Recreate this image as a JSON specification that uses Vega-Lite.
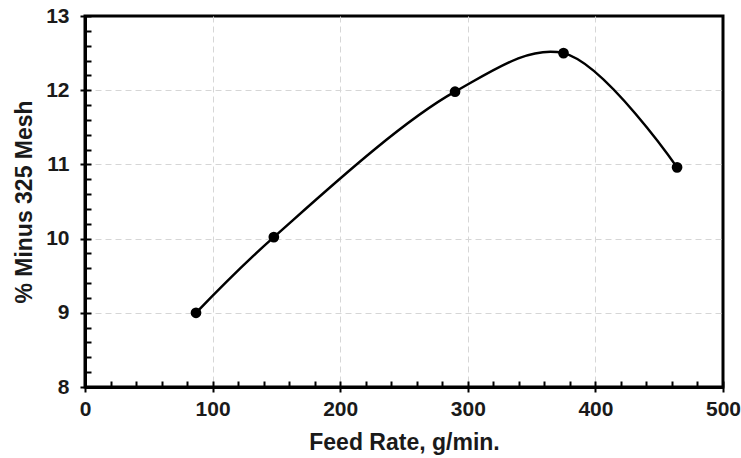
{
  "$schema": "https://vega.github.io/schema/vega-lite/v6.json",
  "width": 638,
  "height": 371,
  "autosize": {"type": "none"},
  "padding": {"left": 85, "top": 16, "right": 18, "bottom": 71},
  "background": "white",
  "config": {
    "view": {"stroke": "black", "strokeWidth": 3},
    "font": "Liberation Sans",
    "axis": {
      "domainColor": "black",
      "domainWidth": 3,
      "tickColor": "black",
      "tickWidth": 2,
      "labelFont": "Liberation Sans",
      "labelFontWeight": "bold",
      "labelFontSize": 21,
      "labelColor": "#1a1a1a",
      "labelFlush": false,
      "labelOverlap": false,
      "titleFont": "Liberation Sans",
      "titleFontWeight": "bold",
      "titleFontSize": 23,
      "titleColor": "#1a1a1a",
      "gridColor": "#d6d6d6",
      "gridDash": [6, 4],
      "gridWidth": 1
    }
  },
  "data": {
    "values": [
      {"feed": 87, "pct": 9.0},
      {"feed": 148, "pct": 10.02},
      {"feed": 290, "pct": 11.98},
      {"feed": 375, "pct": 12.5},
      {"feed": 464, "pct": 10.96}
    ]
  },
  "resolve": {"axis": {"x": "independent", "y": "independent"}},
  "layer": [
    {
      "mark": {"type": "point", "opacity": 0},
      "encoding": {
        "x": {"field": "feed", "type": "quantitative", "scale": {"domain": [0, 500], "nice": false},
          "axis": {"orient": "bottom", "values": [100, 200, 300, 400], "ticks": false, "labels": false, "domain": false, "title": null, "grid": true}},
        "y": {"field": "pct", "type": "quantitative", "scale": {"domain": [8, 13], "nice": false, "zero": false},
          "axis": {"orient": "left", "values": [9, 10, 11, 12], "ticks": false, "labels": false, "domain": false, "title": null, "grid": true}}
      }
    },
    {
      "mark": {"type": "line", "interpolate": "catmull-rom", "color": "black", "strokeWidth": 2.5},
      "encoding": {
        "x": {"field": "feed", "type": "quantitative", "scale": {"domain": [0, 500], "nice": false},
          "axis": {"orient": "bottom", "values": [0, 100, 200, 300, 400, 500], "tickSize": 5, "labelPadding": 6, "title": "Feed Rate, g/min.", "titlePadding": 12, "grid": false}},
        "y": {"field": "pct", "type": "quantitative", "scale": {"domain": [8, 13], "nice": false, "zero": false},
          "axis": {"orient": "left", "values": [8, 9, 10, 11, 12, 13], "tickSize": 5, "labelPadding": 11, "title": "% Minus 325 Mesh", "titlePadding": 9, "grid": false}}
      }
    },
    {
      "mark": {"type": "circle", "color": "black", "opacity": 1, "size": 115},
      "encoding": {
        "x": {"field": "feed", "type": "quantitative", "scale": {"domain": [0, 500], "nice": false},
          "axis": {"orient": "bottom", "values": [0, 20, 40, 60, 80, 100, 120, 140, 160, 180, 200, 220, 240, 260, 280, 300, 320, 340, 360, 380, 400, 420, 440, 460, 480, 500], "tickSize": -6, "labels": false, "title": null, "grid": false, "domain": false}},
        "y": {"field": "pct", "type": "quantitative", "scale": {"domain": [8, 13], "nice": false, "zero": false},
          "axis": {"orient": "left", "values": [8, 8.2, 8.4, 8.6, 8.8, 9, 9.2, 9.4, 9.6, 9.8, 10, 10.2, 10.4, 10.6, 10.8, 11, 11.2, 11.4, 11.6, 11.8, 12, 12.2, 12.4, 12.6, 12.8, 13], "tickSize": -6, "labels": false, "title": null, "grid": false, "domain": false}}
      }
    }
  ]
}
